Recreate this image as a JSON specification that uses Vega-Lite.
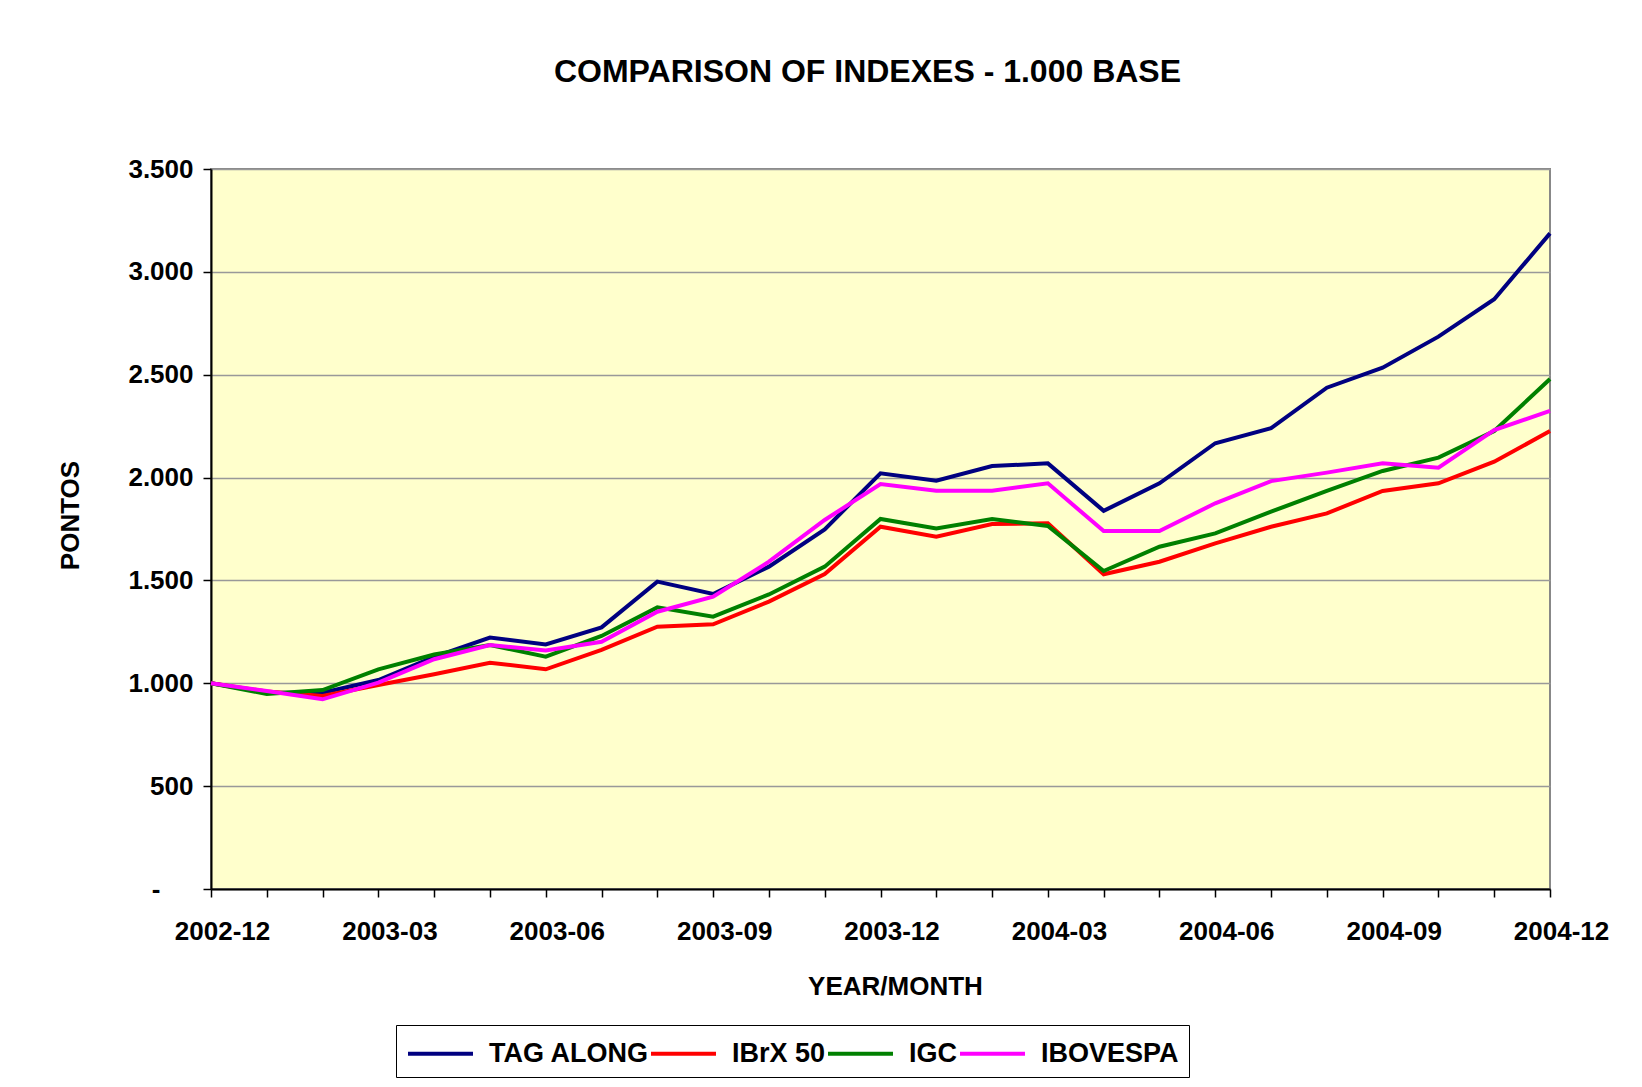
{
  "$schema": "https://vega.github.io/schema/vega-lite/v6.json",
  "autosize": {"type": "none"},
  "padding": {"left": 211, "top": 169, "right": 92, "bottom": 198},
  "width": 1339,
  "height": 720,
  "background": "white",
  "title": {
    "text": "COMPARISON OF INDEXES - 1.000 BASE",
    "font": "Liberation Sans",
    "fontSize": 32,
    "fontWeight": "bold",
    "color": "black",
    "anchor": "middle",
    "baseline": "alphabetic",
    "dx": -13,
    "offset": 42
  },
  "data": {
    "values": [
      {"month": "2002-12", "TAG ALONG": 1000, "IBrX 50": 1000, "IGC": 1000, "IBOVESPA": 1000},
      {"month": "2003-01", "TAG ALONG": 955, "IBrX 50": 960, "IGC": 948, "IBOVESPA": 962},
      {"month": "2003-02", "TAG ALONG": 954, "IBrX 50": 938, "IGC": 967, "IBOVESPA": 922},
      {"month": "2003-03", "TAG ALONG": 1016, "IBrX 50": 992, "IGC": 1068, "IBOVESPA": 1003},
      {"month": "2003-04", "TAG ALONG": 1129, "IBrX 50": 1044, "IGC": 1140, "IBOVESPA": 1117},
      {"month": "2003-05", "TAG ALONG": 1222, "IBrX 50": 1100, "IGC": 1186, "IBOVESPA": 1186},
      {"month": "2003-06", "TAG ALONG": 1189, "IBrX 50": 1068, "IGC": 1129, "IBOVESPA": 1159},
      {"month": "2003-07", "TAG ALONG": 1272, "IBrX 50": 1162, "IGC": 1230, "IBOVESPA": 1202},
      {"month": "2003-08", "TAG ALONG": 1494, "IBrX 50": 1275, "IGC": 1369, "IBOVESPA": 1348},
      {"month": "2003-09", "TAG ALONG": 1434, "IBrX 50": 1287, "IGC": 1324, "IBOVESPA": 1421},
      {"month": "2003-10", "TAG ALONG": 1567, "IBrX 50": 1397, "IGC": 1432, "IBOVESPA": 1591},
      {"month": "2003-11", "TAG ALONG": 1748, "IBrX 50": 1531, "IGC": 1567, "IBOVESPA": 1794},
      {"month": "2003-12", "TAG ALONG": 2021, "IBrX 50": 1761, "IGC": 1799, "IBOVESPA": 1969},
      {"month": "2004-01", "TAG ALONG": 1985, "IBrX 50": 1713, "IGC": 1753, "IBOVESPA": 1936},
      {"month": "2004-02", "TAG ALONG": 2056, "IBrX 50": 1774, "IGC": 1799, "IBOVESPA": 1936},
      {"month": "2004-03", "TAG ALONG": 2069, "IBrX 50": 1778, "IGC": 1765, "IBOVESPA": 1972},
      {"month": "2004-04", "TAG ALONG": 1838, "IBrX 50": 1530, "IGC": 1546, "IBOVESPA": 1740},
      {"month": "2004-05", "TAG ALONG": 1972, "IBrX 50": 1591, "IGC": 1664, "IBOVESPA": 1740},
      {"month": "2004-06", "TAG ALONG": 2167, "IBrX 50": 1680, "IGC": 1729, "IBOVESPA": 1875},
      {"month": "2004-07", "TAG ALONG": 2240, "IBrX 50": 1761, "IGC": 1834, "IBOVESPA": 1983},
      {"month": "2004-08", "TAG ALONG": 2437, "IBrX 50": 1826, "IGC": 1935, "IBOVESPA": 2024},
      {"month": "2004-09", "TAG ALONG": 2534, "IBrX 50": 1935, "IGC": 2032, "IBOVESPA": 2069},
      {"month": "2004-10", "TAG ALONG": 2685, "IBrX 50": 1972, "IGC": 2097, "IBOVESPA": 2048},
      {"month": "2004-11", "TAG ALONG": 2867, "IBrX 50": 2077, "IGC": 2226, "IBOVESPA": 2231},
      {"month": "2004-12", "TAG ALONG": 3187, "IBrX 50": 2226, "IGC": 2479, "IBOVESPA": 2324}
    ]
  },
  "transform": [
    {"fold": ["TAG ALONG", "IBrX 50", "IGC", "IBOVESPA"], "as": ["series", "value"]}
  ],
  "mark": {"type": "line", "strokeWidth": 4},
  "encoding": {
    "x": {
      "field": "month",
      "type": "ordinal",
      "sort": null,
      "scale": {"type": "point", "padding": 0},
      "axis": {
        "title": "YEAR/MONTH",
        "labelExpr": "indexof(['2002-12','2003-03','2003-06','2003-09','2003-12','2004-03','2004-06','2004-09','2004-12'], datum.value) >= 0 ? datum.value : ''",
        "labelAngle": 0,
        "labelOffset": 11,
        "labelPadding": 21,
        "labelOverlap": false,
        "labelBound": false,
        "labelFont": "Liberation Sans",
        "labelFontSize": 26,
        "labelFontWeight": "bold",
        "labelColor": "black",
        "tickSize": 8,
        "tickColor": "black",
        "tickWidth": 1.5,
        "domainColor": "black",
        "domainWidth": 2,
        "grid": false,
        "titleFont": "Liberation Sans",
        "titleFontSize": 26,
        "titleFontWeight": "bold",
        "titleColor": "black",
        "titleX": 684,
        "titleY": 97,
        "titleAlign": "center",
        "titleBaseline": "middle"
      }
    },
    "y": {
      "field": "value",
      "type": "quantitative",
      "scale": {"domain": [0, 3500], "nice": false},
      "axis": {
        "title": "PONTOS",
        "values": [0, 500, 1000, 1500, 2000, 2500, 3000, 3500],
        "labelExpr": "datum.value == 0 ? '-' : replace(format(datum.value, ','), ',', '.')",
        "labelFont": "Liberation Sans",
        "labelFontSize": 26,
        "labelFontWeight": "bold",
        "labelColor": "black",
        "labelPadding": {"condition": {"test": "datum.value == 0", "value": 43}, "value": 10},
        "tickSize": 8,
        "tickColor": "black",
        "tickWidth": 1.5,
        "domainColor": "black",
        "domainWidth": 2,
        "grid": true,
        "gridColor": "#999999",
        "gridWidth": 1.5,
        "titleFont": "Liberation Sans",
        "titleFontSize": 26,
        "titleFontWeight": "bold",
        "titleColor": "black",
        "titleX": -141,
        "titleY": 346,
        "titleAngle": 270,
        "titleAlign": "center",
        "titleBaseline": "middle"
      }
    },
    "color": {
      "field": "series",
      "type": "nominal",
      "sort": ["TAG ALONG", "IBrX 50", "IGC", "IBOVESPA"],
      "scale": {
        "domain": ["TAG ALONG", "IBrX 50", "IGC", "IBOVESPA"],
        "range": ["#000080", "#FF0000", "#008000", "#FF00FF"]
      },
      "legend": {
        "orient": "none",
        "legendX": 185,
        "legendY": 856,
        "direction": "horizontal",
        "title": null,
        "symbolType": "M-2,0H2",
        "symbolSize": 1056,
        "symbolOffset": 16,
        "symbolStrokeWidth": 4,
        "labelFont": "Liberation Sans",
        "labelFontSize": 27,
        "labelFontWeight": "bold",
        "labelColor": "black",
        "labelOffset": 30,
        "labelLimit": 400,
        "columnPadding": -26,
        "padding": 10,
        "strokeColor": "black",
        "fillColor": "white"
      }
    }
  },
  "config": {
    "view": {"fill": "#FFFFCC", "stroke": "#888888", "strokeWidth": 2}
  }
}
